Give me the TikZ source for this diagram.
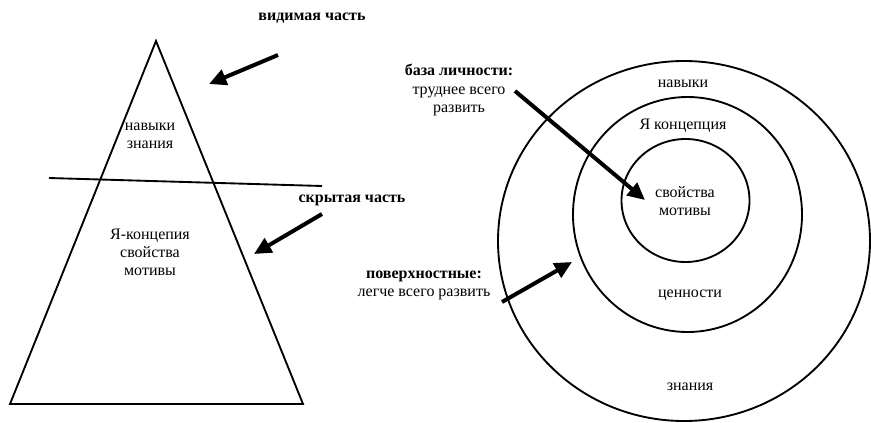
\documentclass[tikz,border=0pt]{standalone}
\usepackage{fontspec}
\setmainfont{Liberation Serif}
\usetikzlibrary{arrows.meta,positioning,shapes.geometric}

\begin{document}
\begin{tikzpicture}[x=0.75pt, y=-0.75pt, every node/.style={font=\fontsize{12}{13.6}\selectfont, inner sep=0pt, align=center}, lbl/.style={font=\fontsize{12}{13.6}\selectfont\bfseries}, ring/.style={draw, ellipse, line width=1.4pt, inner sep=0pt}, outline/.style={line width=1.4pt}, arr/.style={-{Triangle[length=13pt, width=12pt]}, line width=3pt}]
\useasboundingbox (0,0) rectangle (871,422);
\coordinate (apex) at (156,41);
\coordinate (baseL) at (10,404);
\coordinate (baseR) at (303,404);
\coordinate (waterL) at (49,178);
\coordinate (waterR) at (322,186);
\draw[outline, line join=miter] (apex) -- (baseL) -- (baseR) -- cycle;
\draw[outline] (waterL) -- (waterR);
\node (upper) at (150,136) {навыки\\знания};
\node (lower) at (150,252) {Я-концепия\\свойства\\мотивы};
\node[lbl] (visible) at (312,18) {видимая часть};
\node[lbl] (hidden) at (352,200) {скрытая часть};
\coordinate (visibleTail) at (278,55);
\coordinate (visibleHead) at (209,84);
\coordinate (hiddenTail) at (322,214);
\coordinate (hiddenHead) at (254,254);
\draw[arr] (visibleTail) -- (visibleHead);
\draw[arr] (hiddenTail) -- (hiddenHead);
\node[ring, minimum width=279pt, minimum height=270pt] (outer) at (684,241) {};
\node[ring, minimum width=171.75pt, minimum height=176.25pt] (middle) at (687.5,214.5) {};
\node[ring, minimum width=96pt, minimum height=92.25pt] (inner) at (685.5,200.5) {};
\node (skills) at (683,84) {навыки};
\node (selfcon) at (683,126) {Я концепция};
\node (traits) at (685,201) {свойства\\мотивы};
\node (values) at (690,295) {ценности};
\node (knowledge) at (690,387) {знания};
\node (core) at (459,90) {\textbf{база личности:}\\труднее всего\\развить};
\node (surface) at (424,285) {\textbf{поверхностные:}\\легче всего развить};
\coordinate (coreTail) at (515,91);
\coordinate (coreHead) at (645,200);
\coordinate (surfaceTail) at (502,302);
\coordinate (surfaceHead) at (572,262);
\draw[arr] (coreTail) -- (coreHead);
\draw[arr] (surfaceTail) -- (surfaceHead);
\end{tikzpicture}
\end{document}
